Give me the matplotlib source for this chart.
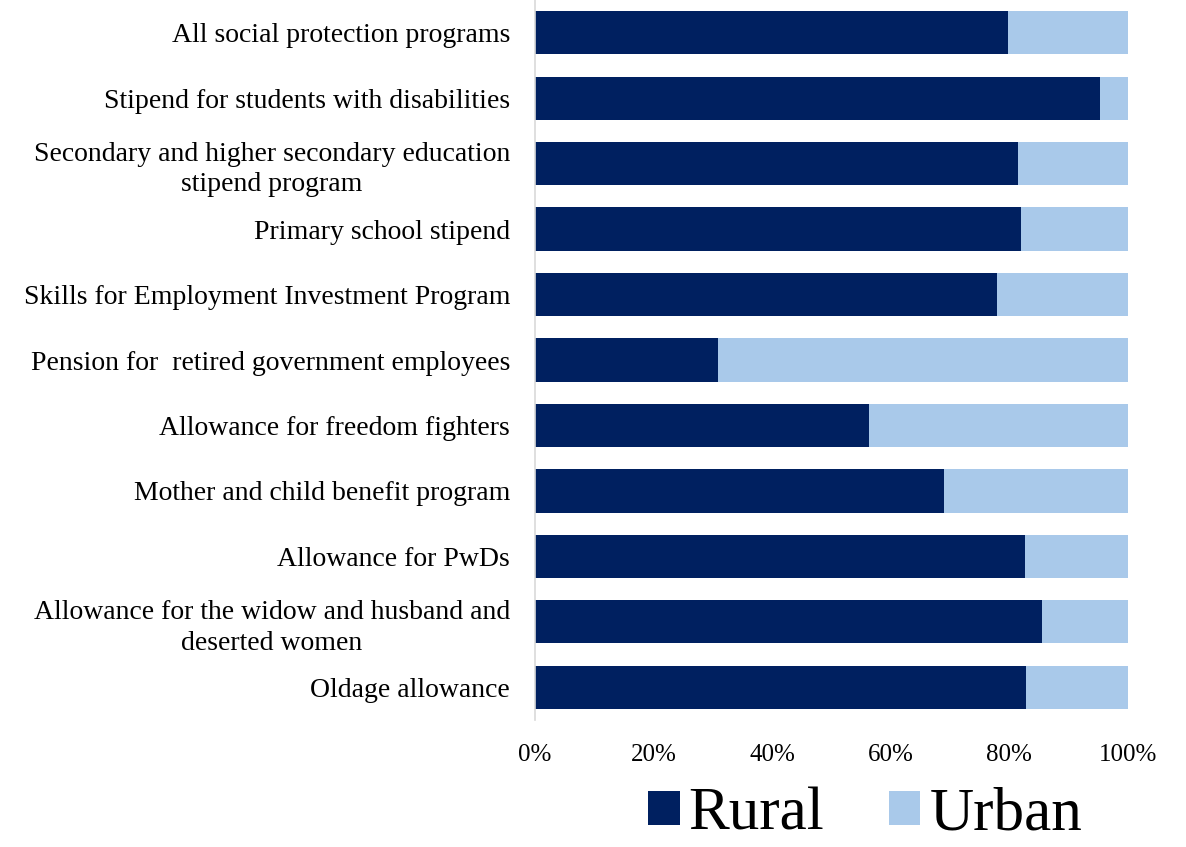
import numpy as np
import matplotlib.pyplot as plt
from matplotlib.ticker import PercentFormatter

# =============================================================================
# Data (share of beneficiaries, %)
# =============================================================================

programs = [
    "All social protection programs",
    "Stipend for students with disabilities",
    "Secondary and higher secondary education\nstipend program",
    "Primary school stipend",
    "Skills for Employment Investment Program",
    "Pension for  retired government employees",
    "Allowance for freedom fighters",
    "Mother and child benefit program",
    "Allowance for PwDs",
    "Allowance for the widow and husband and\ndeserted women",
    "Oldage allowance",
]

rural = [79.8, 95.3, 81.4, 82.0, 77.9, 30.9, 56.3, 69.0, 82.6, 85.5, 82.8]
urban = [100 - r for r in rural]

tick_values = [0, 20, 40, 60, 80, 100]

# =============================================================================
# Plot
# =============================================================================

plt.rcParams["font.family"] = ["Liberation Serif", "DejaVu Serif"]

fig = plt.figure(figsize=(11.86, 8.47), dpi=100)
ax = fig.add_axes([535 / 1186, 1 - 720 / 847, 593 / 1186, 720 / 847])

y = np.arange(len(programs))
bar_height = 0.66

ax.barh(y, rural, height=bar_height, color="#002060", label="Rural")
ax.barh(y, urban, left=rural, height=bar_height, color="#A9C9EA", label="Urban")

ax.set_yticks(y)
ax.set_yticklabels(programs, fontsize=20, linespacing=1.3)
for label in ax.get_yticklabels():
    label.set_multialignment("center")
ax.set_ylim(len(programs) - 0.5, -0.5)

ax.set_xlim(0, 100)
ax.set_xticks(tick_values)
ax.xaxis.set_major_formatter(PercentFormatter(decimals=0))
ax.tick_params(axis="x", labelsize=18, length=0, pad=17)
ax.tick_params(axis="y", length=0, pad=18)

for side in ["top", "right", "bottom"]:
    ax.spines[side].set_visible(False)
ax.spines["left"].set_color("#d9d9d9")
ax.spines["left"].set_linewidth(1.2)

fig.legend(
    loc="center",
    bbox_to_anchor=(865 / 1186, 1 - 815 / 847),
    ncol=2,
    frameon=False,
    fontsize=44,
    handlelength=0.52,
    handleheight=0.5,
    handletextpad=0.15,
    columnspacing=1.05,
    borderpad=0.1,
)

plt.savefig("out.png", dpi=100)
